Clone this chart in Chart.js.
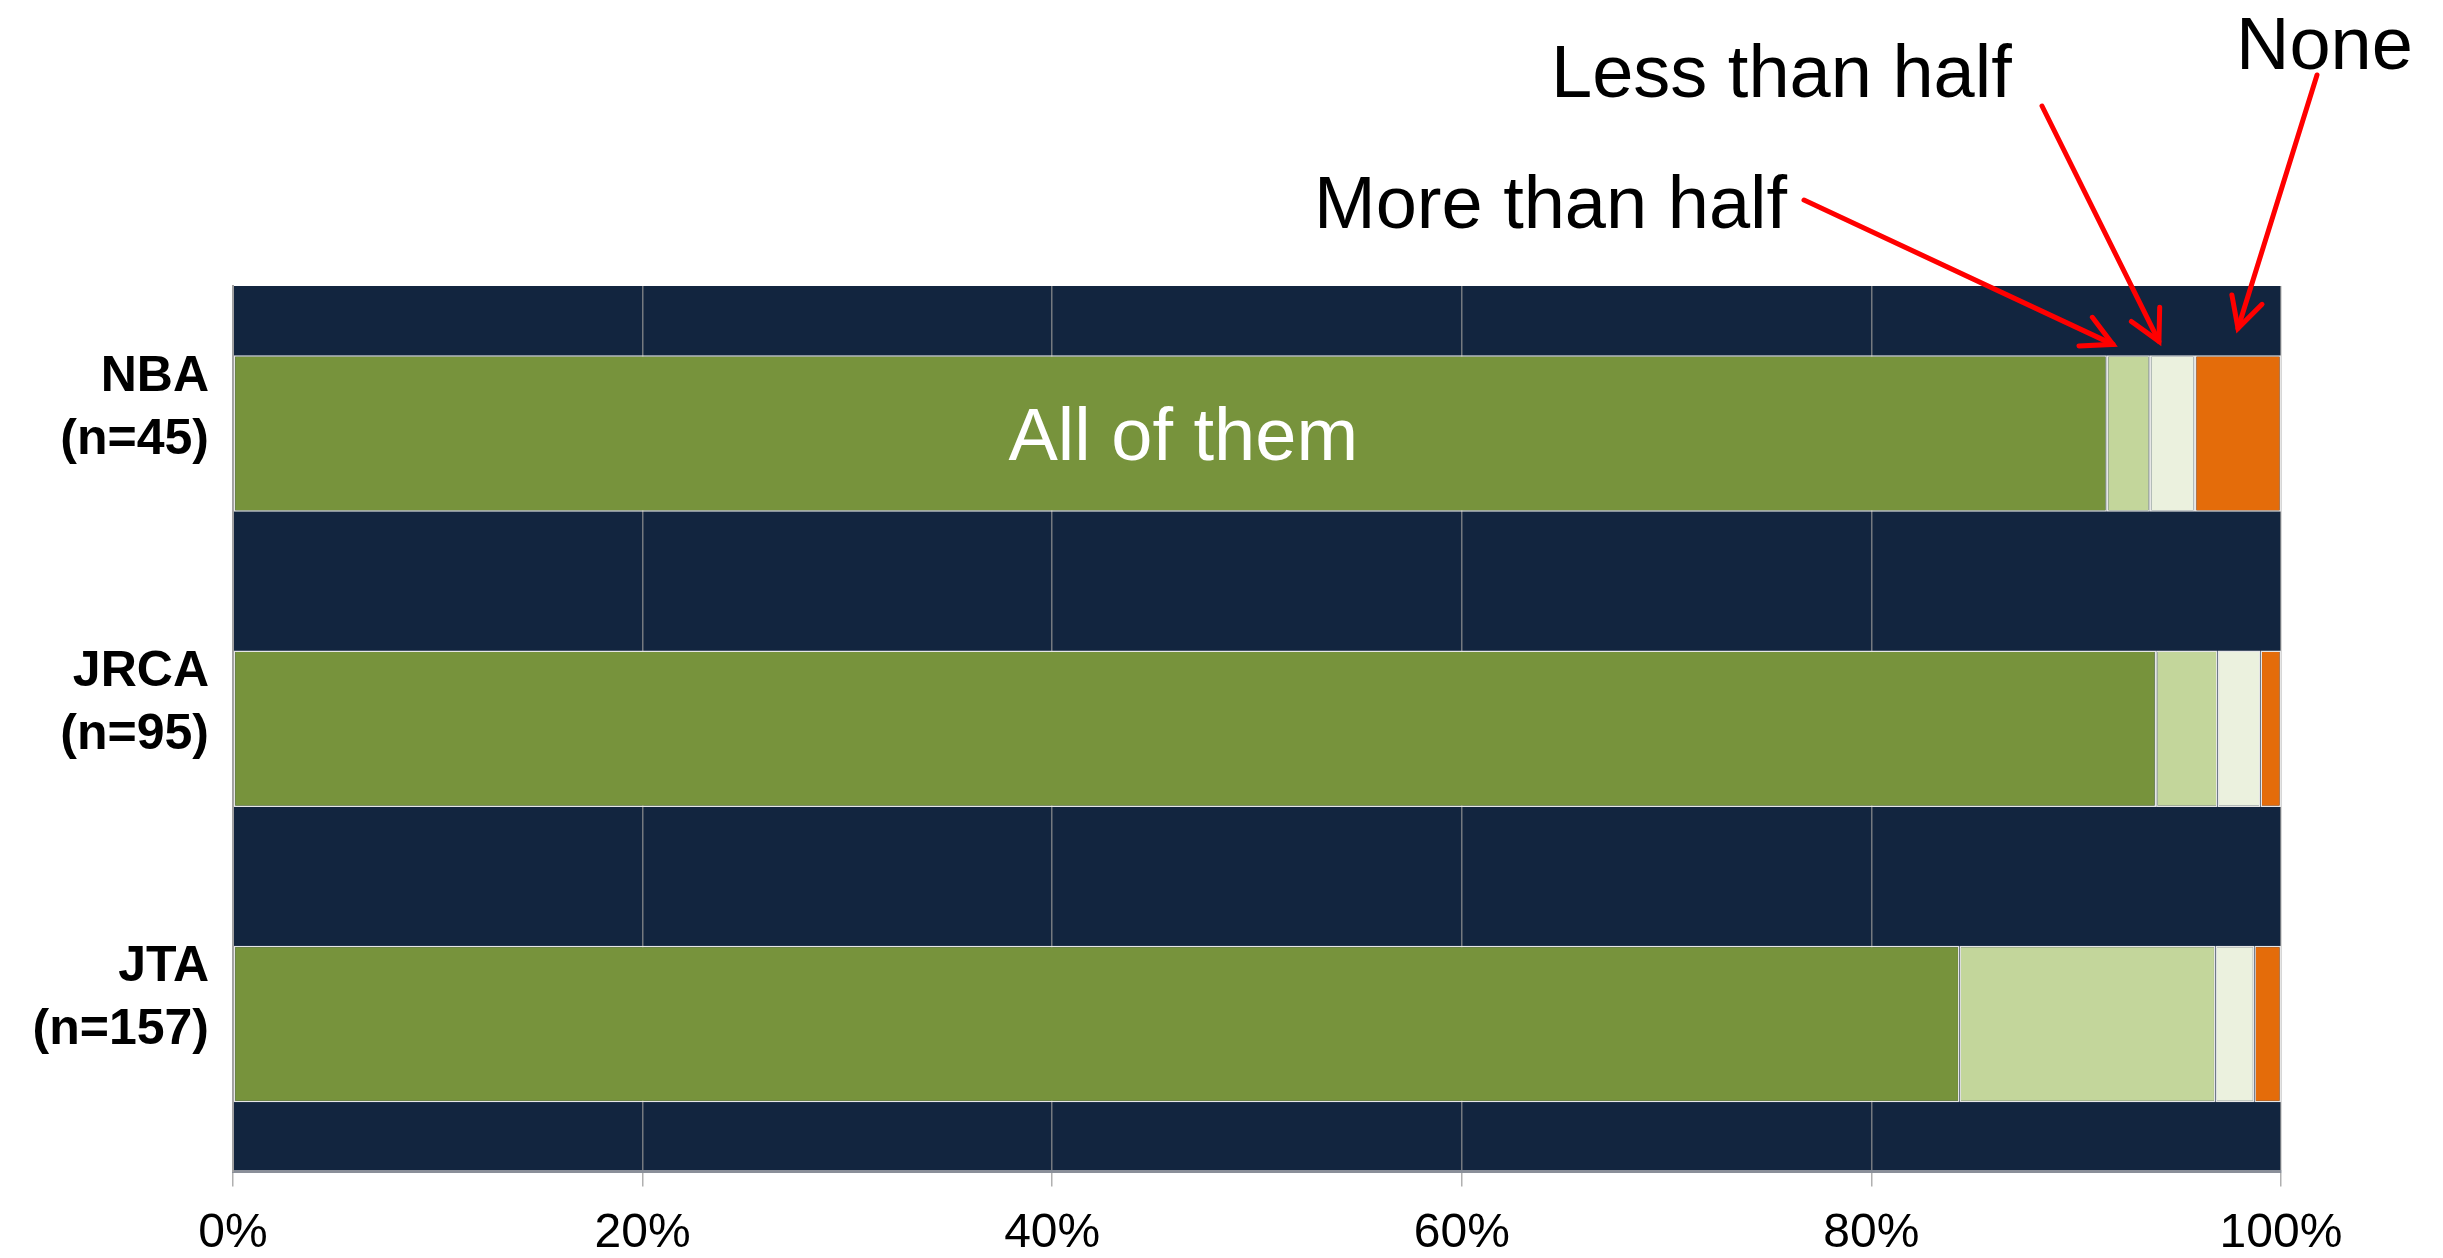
<!DOCTYPE html>
<html>
<head>
<meta charset="utf-8">
<script src="https://cdn.jsdelivr.net/npm/chart.js@4.4.1/dist/chart.umd.min.js"></script>
<style>
  html, body { margin: 0; padding: 0; background: #ffffff; }
  #wrap { width: 2443px; height: 1258px; position: relative; }
</style>
</head>
<body>
<div id="wrap"><canvas id="c" width="2443" height="1258"></canvas></div>
<script>
// ---- data ----
const categories = [['NBA', '(n=45)'], ['JRCA', '(n=95)'], ['JTA', '(n=157)']];
const seriesNames = ['All of them', 'More than half', 'Less than half', 'None'];
const allOfThem    = [91.5, 93.9, 84.3];
const moreThanHalf = [2.1, 3.0, 12.5];
const lessThanHalf = [2.2, 2.1, 1.9];
const none         = [4.2, 1.0, 1.3];
const xTickValues  = [0, 20, 40, 60, 80, 100];

// ---- styles ----
const FONT = '"Liberation Sans", Arial, sans-serif';
const colors = ['#77933C', '#C3D69B', '#EBF1DE', '#E46C0A'];
const plotBg = '#12253F';

const bgPlugin = {
  id: 'plotBg',
  beforeDraw(chart) {
    const { ctx, chartArea: a } = chart;
    ctx.save();
    ctx.fillStyle = plotBg;
    ctx.fillRect(a.left, a.top, a.right - a.left, a.bottom - a.top);
    ctx.restore();
  }
};

function arrow(ctx, x1, y1, x2, y2) {
  const ang = Math.atan2(y2 - y1, x2 - x1);
  const head = 34, spread = Math.PI / 6.5;
  ctx.beginPath();
  ctx.moveTo(x1, y1);
  ctx.lineTo(x2, y2);
  ctx.stroke();
  ctx.beginPath();
  ctx.moveTo(x2 - head * Math.cos(ang - spread), y2 - head * Math.sin(ang - spread));
  ctx.lineTo(x2, y2);
  ctx.lineTo(x2 - head * Math.cos(ang + spread), y2 - head * Math.sin(ang + spread));
  ctx.stroke();
}

const annotPlugin = {
  id: 'annot',
  afterDraw(chart) {
    const { ctx } = chart;
    const xs = chart.scales.x;
    const seg = (ds) => chart.getDatasetMeta(ds).data[0];
    const barTop = seg(0).y - seg(0).height / 2;
    ctx.save();
    // "All of them" label inside the first bar
    ctx.fillStyle = '#ffffff';
    ctx.font = '74px ' + FONT;
    ctx.textAlign = 'center';
    ctx.textBaseline = 'alphabetic';
    ctx.fillText(seriesNames[0], xs.getPixelForValue(46.4), seg(0).y + 26);

    // callout texts
    ctx.fillStyle = '#000000';
    ctx.textAlign = 'left';
    ctx.fillText(seriesNames[1], 1314, 228);
    ctx.fillText(seriesNames[2], 1551, 97);
    ctx.fillText(seriesNames[3], 2236, 69);

    // arrows
    ctx.strokeStyle = '#FF0000';
    ctx.lineWidth = 5;
    ctx.lineCap = 'round';
    ctx.lineJoin = 'miter';
    const m = seg(1), l = seg(2), n = seg(3);
    arrow(ctx, 1804, 200, m.base + 6, barTop - 11);
    arrow(ctx, 2042, 106, l.base + 9, barTop - 14);
    arrow(ctx, 2317, 75, (n.base + n.x) / 2, barTop - 27);
    ctx.restore();
  }
};

const datasets = [allOfThem, moreThanHalf, lessThanHalf, none].map((d, i) => ({
  label: seriesNames[i],
  data: d,
  backgroundColor: colors[i],
  borderColor: '#E6E6E6',
  borderWidth: 1.5,
  borderSkipped: false,
  barPercentage: 0.53,
  categoryPercentage: 1.0
}));

new Chart(document.getElementById('c'), {
  type: 'bar',
  data: { labels: categories, datasets },
  options: {
    indexAxis: 'y',
    responsive: false,
    animation: false,
    devicePixelRatio: 1,
    layout: { padding: { top: 286, right: 162, left: 0, bottom: 0 } },
    plugins: { legend: { display: false }, tooltip: { enabled: false } },
    scales: {
      x: {
        stacked: true,
        min: 0, max: 100,
        afterBuildTicks(scale) { scale.ticks = xTickValues.map(v => ({ value: v })); },
        afterFit(scale) { scale.height = 77; },
        grid: { color: 'rgba(150,150,150,0.75)', lineWidth: 1.5, tickLength: 15, drawTicks: true },
        border: { display: true, color: '#8a8f99', width: 3 },
        ticks: {
          color: '#000000',
          font: { family: FONT, size: 48 },
          padding: 18,
          maxRotation: 0,
          callback: v => v + '%'
        }
      },
      y: {
        stacked: true,
        afterFit(scale) { scale.width = 233; },
        grid: { display: false, drawTicks: false },
        border: { display: true, color: '#a0a0a0', width: 2 },
        ticks: {
          color: '#000000',
          font: { family: FONT, size: 50, weight: 'bold', lineHeight: 1.25 },
          padding: 24,
          labelOffset: -25
        }
      }
    }
  },
  plugins: [bgPlugin, annotPlugin]
});
</script>
</body>
</html>
